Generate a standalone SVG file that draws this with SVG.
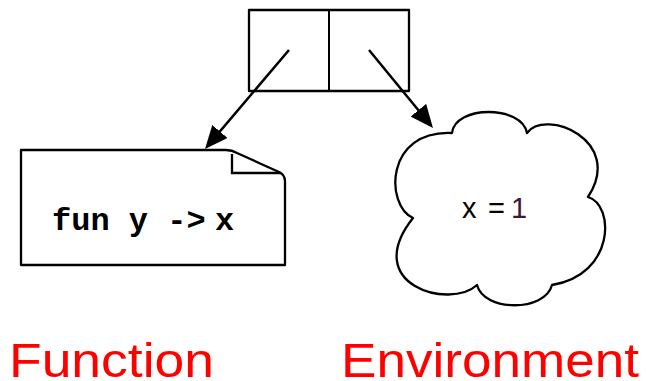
<svg xmlns="http://www.w3.org/2000/svg" width="646" height="381" viewBox="0 0 646 381">
<style>
.shape{fill:#fff;stroke:#000;stroke-width:2.3;stroke-linejoin:round}
.conn{fill:none;stroke:#000;stroke-width:2.5}
.code{font-family:"Liberation Mono","Courier New",monospace;font-weight:bold;font-size:32px;fill:#000}
.env{font-family:"Liberation Sans",Arial,sans-serif;font-size:29px;fill:#000}
.label{font-family:"Liberation Sans",Arial,sans-serif;font-size:49px;fill:#ff0000}
</style>
<defs>
<marker id="ah" markerUnits="userSpaceOnUse" markerWidth="24" markerHeight="20" refX="15" refY="10" orient="auto">
<path d="M0,0 L23,10 L0,20 z" fill="#000"/>
</marker>
</defs>
<rect width="646" height="381" fill="#fff"/>
<g id="pair">
<rect class="shape" x="249" y="10" width="160" height="81" stroke-width="2"/>
<line x1="329" y1="10" x2="329" y2="91" stroke="#000" stroke-width="2"/>
</g>
<g id="function">
<path class="shape" d="M21,150 H226 Q232,150 237,153 L279,172 Q285,175 285,181 V265 H21 Z"/>
<path d="M232,154 V173 H281" fill="none" stroke="#000" stroke-width="2.3"/>
<text class="code" x="52" y="230">fun y -&gt;<tspan x="215">x</tspan></text>
</g>
<g id="environment">
<path class="shape" stroke-width="2" d="M413,218 C385,205 385,130 452,133 C455,105 522,105 527,133 C545,108 625,140 588,197 C615,205 615,275 552,285 C545,312 484,312 477,285 C450,310 360,285 413,218 Z"/>
<text class="env" x="462" y="218">x<tspan x="488">=</tspan><tspan x="511" fill="#3c1a3c">1</tspan></text>
</g>
<g id="connectors">
<line class="conn" x1="289" y1="50" x2="210.2" y2="142.9" marker-end="url(#ah)"/>
<line class="conn" x1="369" y1="50" x2="427.9" y2="121.8" marker-end="url(#ah)"/>
</g>
<g id="labels">
<text class="label" x="9" y="377" textLength="205" lengthAdjust="spacingAndGlyphs">Function</text>
<text class="label" x="341" y="377" textLength="298" lengthAdjust="spacingAndGlyphs">Environment</text>
</g>
</svg>
